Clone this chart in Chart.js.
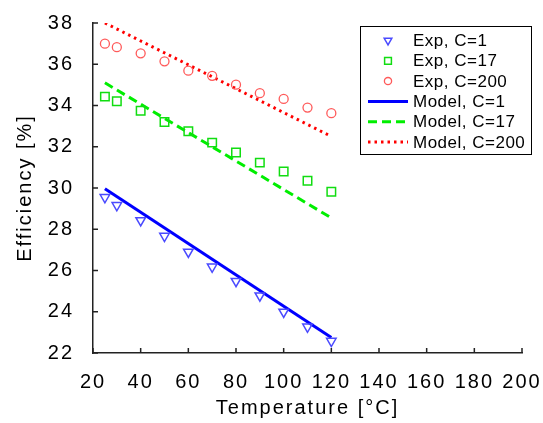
<!DOCTYPE html>
<html>
<head>
<meta charset="utf-8">
<script src="https://cdn.jsdelivr.net/npm/chart.js@4.4.1/dist/chart.umd.min.js"></script>
<style>
  html, body { margin: 0; padding: 0; background: #fff; }
  #wrap { width: 543px; height: 423px; position: relative; }
</style>
</head>
<body>
<div id="wrap"><canvas id="effChart"></canvas></div>
<script>
// measured points (temperature in C, efficiency in %)
const temps = [25, 30, 40, 50, 60, 70, 80, 90, 100, 110, 120];
const expC1 = [29.55, 29.16, 28.43, 27.67, 26.90, 26.18, 25.48, 24.78, 23.99, 23.27, 22.58];
const expC17 = [34.43, 34.21, 33.74, 33.20, 32.75, 32.20, 31.72, 31.23, 30.80, 30.35, 29.82];
const expC200 = [37.00, 36.83, 36.53, 36.14, 35.69, 35.44, 35.01, 34.60, 34.32, 33.90, 33.63];

// model lines (straight, two end points)
const modelTemps = [25, 120];
const modelC1 = [29.96, 22.75];
const modelC17 = [35.10, 28.55];
const modelC200 = [38.00, 32.50];

const labels = ['Exp, C=1', 'Exp, C=17', 'Exp, C=200', 'Model, C=1', 'Model, C=17', 'Model, C=200'];

function toXY(xs, ys) {
    return xs.map((x, i) => ({ x: x, y: ys[i] }));
}

const FONT = '"Liberation Sans", Arial, sans-serif';

// the original lettering is quite wide
const wideText = {
    id: 'wideText',
    beforeDraw(chart) {
        chart.ctx.letterSpacing = '2px';
    }
};

// ticks point inward, like the original figure
const inwardTicks = {
    id: 'inwardTicks',
    afterDraw(chart) {
        const ctx = chart.ctx;
        const xs = chart.scales.x, ys = chart.scales.y;
        const a = chart.chartArea;
        ctx.save();
        ctx.strokeStyle = '#222';
        ctx.lineWidth = 1.5;
        ctx.beginPath();
        xs.ticks.forEach(t => {
            const px = xs.getPixelForValue(t.value);
            ctx.moveTo(px, a.bottom);
            ctx.lineTo(px, a.bottom - 5);
        });
        ys.ticks.forEach(t => {
            const py = ys.getPixelForValue(t.value);
            ctx.moveTo(a.left, py);
            ctx.lineTo(a.left + 5, py);
        });
        ctx.stroke();
        ctx.restore();
    }
};

// boxed legend inside the plot, top right
const boxLegend = {
    id: 'boxLegend',
    afterDraw(chart) {
        const ctx = chart.ctx;
        const bx = 360.5, by = 26.5, bw = 171, bh = 128;
        ctx.save();
        ctx.fillStyle = '#fff';
        ctx.fillRect(bx, by, bw, bh);
        ctx.strokeStyle = '#000';
        ctx.lineWidth = 1;
        ctx.strokeRect(bx, by, bw, bh);
        ctx.letterSpacing = '0.5px';
        ctx.font = '17px ' + FONT;
        ctx.textBaseline = 'middle';
        chart.data.datasets.forEach((ds, i) => {
            const y = 40.5 + i * 20.3;
            ctx.save();
            if (ds.showLine) {
                ctx.strokeStyle = ds.borderColor;
                ctx.lineWidth = ds.borderWidth;
                ctx.setLineDash(ds.borderDash || []);
                ctx.beginPath();
                ctx.moveTo(368, y);
                ctx.lineTo(408, y);
                ctx.stroke();
            } else {
                ctx.fillStyle = 'rgba(0,0,0,0)';
                ctx.strokeStyle = ds.pointBorderColor;
                ctx.lineWidth = ds.pointBorderWidth;
                Chart.helpers.drawPoint(ctx, {
                    pointStyle: ds.pointStyle,
                    radius: ds.pointRadius * 0.8,
                    rotation: ds.pointRotation || 0,
                    borderWidth: ds.pointBorderWidth
                }, 388, y);
            }
            ctx.restore();
            ctx.fillStyle = '#000';
            ctx.fillText(ds.label, 413, y + 1);
        });
        ctx.restore();
    }
};

const ctx = document.getElementById('effChart');
const effChart = new Chart(ctx, {
    type: 'scatter',
    data: {
        datasets: [
            {
                label: labels[0],
                data: toXY(temps, expC1),
                pointStyle: 'triangle',
                pointRotation: 180,
                pointRadius: 5.5,
                pointBorderWidth: 1.5,
                pointBorderColor: '#4a4aff',
                pointBackgroundColor: 'rgba(0,0,0,0)',
                showLine: false
            },
            {
                label: labels[1],
                data: toXY(temps, expC17),
                pointStyle: 'rect',
                pointRadius: 6,
                pointBorderWidth: 1.5,
                pointBorderColor: '#11dd11',
                pointBackgroundColor: 'rgba(0,0,0,0)',
                showLine: false
            },
            {
                label: labels[2],
                data: toXY(temps, expC200),
                pointStyle: 'circle',
                pointRadius: 4.5,
                pointBorderWidth: 1.3,
                pointBorderColor: '#ff5a5a',
                pointBackgroundColor: 'rgba(0,0,0,0)',
                showLine: false
            },
            {
                label: labels[3],
                data: toXY(modelTemps, modelC1),
                showLine: true,
                borderColor: '#0000ff',
                borderWidth: 3,
                pointRadius: 0
            },
            {
                label: labels[4],
                data: toXY(modelTemps, modelC17),
                showLine: true,
                borderColor: '#00ee00',
                borderWidth: 3,
                borderDash: [9, 5],
                pointRadius: 0
            },
            {
                label: labels[5],
                data: toXY(modelTemps, modelC200),
                showLine: true,
                borderColor: '#ff0000',
                borderWidth: 3,
                borderDash: [2.5, 4],
                pointRadius: 0
            }
        ]
    },
    options: {
        responsive: true,
        maintainAspectRatio: false,
        animation: false,
        layout: { padding: { top: 20, right: 21, left: 0, bottom: 0 } },
        plugins: {
            legend: { display: false },
            tooltip: { enabled: false }
        },
        scales: {
            x: {
                type: 'linear',
                min: 20,
                max: 200,
                ticks: { stepSize: 20, color: '#000', font: { size: 20, family: FONT }, padding: 9, maxRotation: 0 },
                grid: { display: false },
                border: { display: true, color: '#222', width: 1.5 },
                title: { display: true, text: 'Temperature [°C]', color: '#000', font: { size: 20, family: FONT }, padding: { top: 0, bottom: 3 } },
                afterFit(scale) {
                    scale.height = 70;
                    scale.paddingLeft = 0;
                    scale.paddingRight = 0;
                }
            },
            y: {
                type: 'linear',
                min: 22,
                max: 38,
                ticks: { stepSize: 2, color: '#000', font: { size: 20, family: FONT }, padding: 11 },
                grid: { display: false },
                border: { display: true, color: '#222', width: 1.5 },
                title: { display: true, text: 'Efficiency [%]', color: '#000', font: { size: 20, family: FONT }, padding: { top: 13, bottom: 0 } },
                afterFit(scale) { scale.width = 93; }
            }
        }
    },
    plugins: [wideText, inwardTicks, boxLegend]
});
</script>
</body>
</html>
